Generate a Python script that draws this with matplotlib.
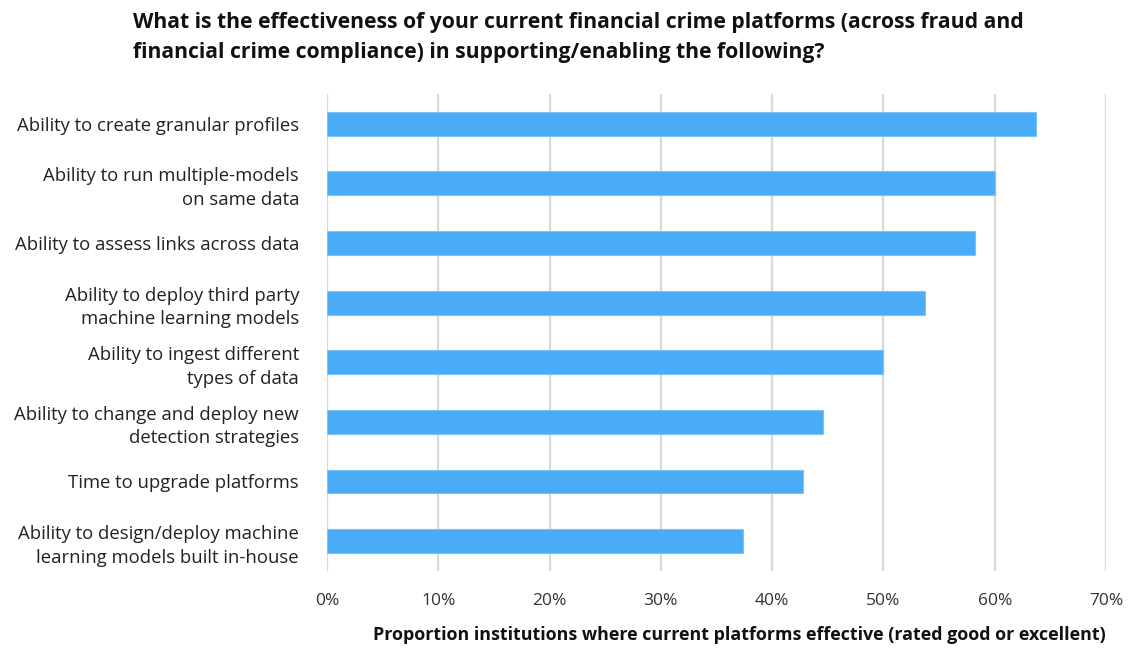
import matplotlib.pyplot as plt
from matplotlib.ticker import PercentFormatter

plt.rcParams["font.family"] = ["Open Sans", "DejaVu Sans"]

# Capabilities listed top to bottom, with the share of institutions rating them effective
capabilities = [
    "Ability to create granular profiles",
    "Ability to run multiple-models\non same data",
    "Ability to assess links across data",
    "Ability to deploy third party\nmachine learning models",
    "Ability to ingest different\ntypes of data",
    "Ability to change and deploy new\ndetection strategies",
    "Time to upgrade platforms",
    "Ability to design/deploy machine\nlearning models built in-house",
]
effective_pct = [63.7, 60.0, 58.2, 53.7, 50.0, 44.6, 42.8, 37.4]
x_ticks = [0, 10, 20, 30, 40, 50, 60, 70]

fig = plt.figure(figsize=(11.31, 6.48), dpi=100)
ax = fig.add_axes([0.289, 0.119, 0.689, 0.736])

ypos = list(range(len(capabilities)))
ax.barh(ypos, effective_pct, height=0.4, color="#4aabf6",
        edgecolor="#7cc3f9", linewidth=0.8, zorder=3)

ax.set_ylim(len(capabilities) - 0.5, -0.5)
ax.set_yticks(ypos)
ax.set_yticklabels(capabilities, fontsize=13.3, color="#222222", linespacing=1.4)
ax.set_xlim(0, 70)
ax.set_xticks(x_ticks)
ax.xaxis.set_major_formatter(PercentFormatter(decimals=0))
ax.tick_params(axis="x", length=0, pad=16, labelsize=12.5, labelcolor="#333333")
ax.tick_params(axis="y", length=0, pad=20)

ax.grid(axis="x", color="#d9d9d9", linewidth=1.6, zorder=0)
for side in ax.spines.values():
    side.set_visible(False)

ax.set_xlabel("Proportion institutions where current platforms effective (rated good or excellent)",
              fontsize=12.9, fontweight="bold", color="#111111")
ax.xaxis.set_label_coords(0.53, -0.115)

fig.text(0.118, 0.981,
         "What is the effectiveness of your current financial crime platforms (across fraud and\n"
         "financial crime compliance) in supporting/enabling the following?",
         ha="left", va="top", fontsize=15.2, fontweight="bold", color="#111111",
         linespacing=1.55)

fig.savefig("out.png", dpi=100)
